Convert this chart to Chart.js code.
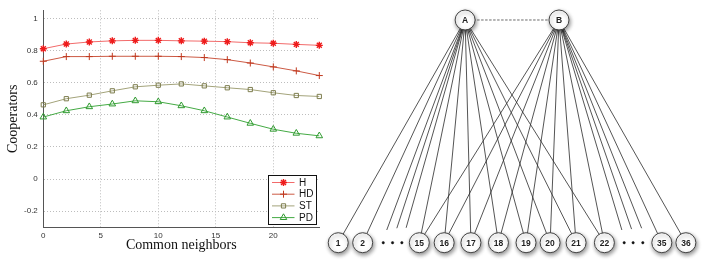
<!DOCTYPE html>
<html><head><meta charset="utf-8">
<script src="https://cdn.jsdelivr.net/npm/chart.js@4/dist/chart.umd.min.js"></script>
<style>
html,body{margin:0;padding:0;background:#fff;}
#wrap{position:relative;width:708px;height:264px;overflow:hidden;background:#fff;}
#lbox{position:absolute;left:0;top:0;width:330px;height:264px;}
#rbox{position:absolute;left:320px;top:0;width:388px;height:264px;}
</style></head><body>
<div id="wrap">
<div id="lbox"><canvas id="left" width="330" height="264"></canvas></div>
<div id="rbox"><canvas id="right" width="388" height="264"></canvas></div>
</div>
<script>
// ---------- Left chart data ----------
const commonNeighbors = [0, 2, 4, 6, 8, 10, 12, 14, 16, 18, 20, 22, 24];
const seriesH  = [0.811, 0.840, 0.853, 0.860, 0.863, 0.863, 0.860, 0.858, 0.855, 0.848, 0.845, 0.838, 0.832];
const seriesHD = [0.733, 0.762, 0.762, 0.764, 0.764, 0.764, 0.762, 0.756, 0.743, 0.722, 0.698, 0.673, 0.644];
const seriesST = [0.462, 0.500, 0.522, 0.549, 0.574, 0.584, 0.592, 0.580, 0.568, 0.557, 0.537, 0.520, 0.514];
const seriesPD = [0.386, 0.425, 0.450, 0.467, 0.487, 0.481, 0.456, 0.425, 0.386, 0.347, 0.310, 0.285, 0.269];
const seriesLabels = ['H', 'HD', 'ST', 'PD'];
const xTickValues = [0, 5, 10, 15, 20];
const yTickValues = [-0.2, 0, 0.2, 0.4, 0.6, 0.8, 1];
const xTitle = 'Common neighbors';
const yTitle = 'Cooperators';

// ---------- Right diagram data ----------
const hubLabels = ['A', 'B'];
const hubX = [37.4, 61.6];
const leafLabels = ['1', '2', '15', '16', '17', '18', '19', '20', '21', '22', '35', '36'];
const leafX = [4.7, 11.0, 25.6, 32.0, 38.9, 46.0, 53.1, 59.3, 66.0, 73.3, 88.1, 94.3];
const ellipsisX = [16.3, 18.7, 21.1, 78.4, 80.7, 83.2];
const hiddenIds = ['a1', 'a2', 'a3', 'b1', 'b2', 'b3'];
const hiddenX = [17.2, 19.8, 22.2, 77.8, 80.3, 82.9];
const hiddenY = [0.057, 0.065, 0.067, 0.057, 0.061, 0.065];
const edgesA = ['1', '2', 'a1', 'a2', 'a3', '15', '16', '17', '18', '19', '20', '21', '22'];
const edgesB = ['15', '16', '17', '18', '19', '20', '21', '22', 'b1', 'b2', 'b3', '35', '36'];
const hubLevel = 1, leafLevel = 0;

// ---------- Left chart ----------
const styles = [
  {line: '#f26a6a', mark: '#ee1c1c', style: 'star', r: 3.5, fill: '#ee1c1c', bw: 1.4},
  {line: '#cc5a44', mark: '#c0391f', style: 'cross', r: 3.5, fill: 'rgba(0,0,0,0)', bw: 1},
  {line: '#a3a37a', mark: '#7d7d4e', style: 'rect', r: 3, fill: 'rgba(0,0,0,0)', bw: 1},
  {line: '#44aa44', mark: '#2f9a2f', style: 'triangle', r: 3.8, fill: 'rgba(0,0,0,0)', bw: 1}
];
const allSeries = [seriesH, seriesHD, seriesST, seriesPD];
const leftDatasets = allSeries.map((s, i) => ({
  label: seriesLabels[i],
  data: commonNeighbors.map((x, j) => ({x: x, y: s[j]})),
  borderColor: styles[i].line,
  borderWidth: 1,
  pointStyle: styles[i].style,
  pointRadius: styles[i].r,
  pointBorderColor: styles[i].mark,
  pointBackgroundColor: styles[i].fill,
  pointBorderWidth: styles[i].bw,
  tension: 0,
  clip: false
}));

const boxLegend = {
  id: 'boxLegend',
  afterDatasetsDraw(chart) {
    const {ctx, chartArea: a} = chart;
    const w = 48, h = 49;
    const x0 = Math.round(a.right - 3.3 - w) + 0.5, y0 = Math.round(a.bottom - 3.5 - h) + 0.5;
    ctx.save();
    ctx.fillStyle = '#fff';
    ctx.fillRect(x0, y0, w, h);
    ctx.strokeStyle = '#111';
    ctx.lineWidth = 1;
    ctx.strokeRect(x0, y0, w, h);
    chart.data.datasets.forEach((ds, i) => {
      const y = y0 + 7 + i * 11.7;
      ctx.strokeStyle = ds.borderColor;
      ctx.lineWidth = 1;
      ctx.beginPath();
      ctx.moveTo(x0 + 3.5, y);
      ctx.lineTo(x0 + 26, y);
      ctx.stroke();
      ctx.strokeStyle = ds.pointBorderColor;
      ctx.fillStyle = ds.pointBackgroundColor;
      ctx.lineWidth = ds.pointBorderWidth;
      Chart.helpers.drawPoint(ctx, {
        pointStyle: ds.pointStyle, radius: ds.pointRadius, borderWidth: ds.pointBorderWidth,
        rotation: 0
      }, x0 + 15, y);
      ctx.fillStyle = '#111';
      ctx.font = '10px "Liberation Sans", Arial, sans-serif';
      ctx.textBaseline = 'middle';
      ctx.textAlign = 'left';
      ctx.fillText(ds.label, x0 + 30.5, y + 0.5);
    });
    ctx.restore();
  }
};

const tickFont = {family: '"Liberation Sans", Arial, sans-serif', size: 8};
new Chart(document.getElementById('left'), {
  type: 'line',
  data: {datasets: leftDatasets},
  options: {
    responsive: false,
    animation: false,
    events: [],
    layout: {autoPadding: false, padding: {top: 10, right: 10.7, left: 0, bottom: 0}},
    plugins: {legend: {display: false}, tooltip: {enabled: false}},
    scales: {
      x: {
        type: 'linear', min: 0, max: 24,
        afterBuildTicks: s => { s.ticks = xTickValues.map(v => ({value: v})); },
        afterFit: s => { s.height = 36.7; },
        grid: {color: '#bdbdbd', lineWidth: 1, drawTicks: false},
        border: {display: true, color: '#555', width: 1, dash: [1, 2]},
        ticks: {padding: 4, font: tickFont, color: '#333', maxRotation: 0, autoSkip: false},
        title: {display: true, text: xTitle, color: '#111',
          font: {family: '"Liberation Serif", "Times New Roman", serif', size: 14},
          padding: {top: 0, bottom: 9.9}}
      },
      y: {
        type: 'linear', min: -0.3, max: 1.05,
        afterBuildTicks: s => { s.ticks = yTickValues.map(v => ({value: v})); },
        afterFit: s => { s.width = 43.3; },
        grid: {color: '#bdbdbd', lineWidth: 1, drawTicks: false},
        border: {display: true, color: '#555', width: 1, dash: [1, 2]},
        ticks: {padding: 5.5, font: tickFont, color: '#333', autoSkip: false,
          callback: v => String(Math.round(v * 10) / 10)},
        title: {display: true, text: yTitle, color: '#111',
          font: {family: '"Liberation Serif", "Times New Roman", serif', size: 14},
          padding: {top: 4.9, bottom: 0}}
      }
    }
  },
  plugins: [boxLegend]
});

// ---------- Right diagram ----------
function posOf(id) {
  let k = leafLabels.indexOf(id);
  if (k >= 0) return {x: leafX[k], y: leafLevel};
  k = hiddenIds.indexOf(id);
  return {x: hiddenX[k], y: hiddenY[k]};
}
const edgeDatasets = [];
edgesA.forEach(t => edgeDatasets.push({
  type: 'line', data: [{x: hubX[0], y: hubLevel}, posOf(t)],
  borderColor: '#2a2a2a', borderWidth: 0.8, pointRadius: 0, order: 10, clip: false
}));
edgesB.forEach(t => edgeDatasets.push({
  type: 'line', data: [{x: hubX[1], y: hubLevel}, posOf(t)],
  borderColor: '#2a2a2a', borderWidth: 0.8, pointRadius: 0, order: 10, clip: false
}));
const abLink = {
  type: 'line', data: hubX.map(x => ({x: x, y: hubLevel})),
  borderColor: '#444', borderWidth: 0.8, borderDash: [2.5, 1.5], pointRadius: 0, order: 9, clip: false
};
const nodeStyle = {
  type: 'scatter', pointRadius: 10, pointBorderWidth: 1, pointBorderColor: '#444',
  pointBackgroundColor: '#fff', order: 1, clip: false, shadow: true
};
const hubNodes = Object.assign({}, nodeStyle, {
  data: hubX.map(x => ({x: x, y: hubLevel})), nodeLabels: hubLabels
});
const leafNodes = Object.assign({}, nodeStyle, {
  data: leafX.map(x => ({x: x, y: leafLevel})), nodeLabels: leafLabels
});
const dots = {
  type: 'scatter', data: ellipsisX.map(x => ({x: x, y: leafLevel})),
  pointRadius: 1.2, pointBackgroundColor: '#111', pointBorderColor: '#111', pointBorderWidth: 0.5,
  order: 2, clip: false
};

const shadowPlugin = {
  id: 'nodeShadow',
  beforeDatasetDraw(chart, args) {
    if (args.meta._dataset && args.meta._dataset.shadow) {
      const ctx = chart.ctx;
      ctx.save();
      ctx.shadowColor = 'rgba(0,0,0,0.45)';
      ctx.shadowBlur = 4;
      ctx.shadowOffsetX = 1;
      ctx.shadowOffsetY = 2;
    }
  },
  afterDatasetDraw(chart, args) {
    if (args.meta._dataset && args.meta._dataset.shadow) chart.ctx.restore();
  }
};
const labelPlugin = {
  id: 'nodeLabels',
  afterDatasetsDraw(chart) {
    const ctx = chart.ctx;
    const xs = chart.scales.x, ys = chart.scales.y;
    ctx.save();
    ctx.fillStyle = '#222';
    ctx.font = 'bold 8.5px "Liberation Sans", Arial, sans-serif';
    ctx.textAlign = 'center';
    ctx.textBaseline = 'middle';
    chart.data.datasets.forEach(ds => {
      if (!ds.nodeLabels) return;
      ds.data.forEach((p, i) => {
        ctx.fillText(ds.nodeLabels[i], xs.getPixelForValue(p.x), ys.getPixelForValue(p.y) + 0.5);
      });
    });
    ctx.restore();
  }
};

new Chart(document.getElementById('right'), {
  type: 'scatter',
  data: {datasets: [hubNodes, leafNodes, dots, abLink].concat(edgeDatasets)},
  options: {
    responsive: false,
    animation: false,
    events: [],
    layout: {autoPadding: false, padding: 0},
    plugins: {legend: {display: false}, tooltip: {enabled: false}},
    scales: {
      x: {type: 'linear', min: 0, max: 100, display: false},
      y: {type: 'linear', min: -0.0956, max: 1.0898, display: false}
    }
  },
  plugins: [shadowPlugin, labelPlugin]
});
</script>
</body></html>
